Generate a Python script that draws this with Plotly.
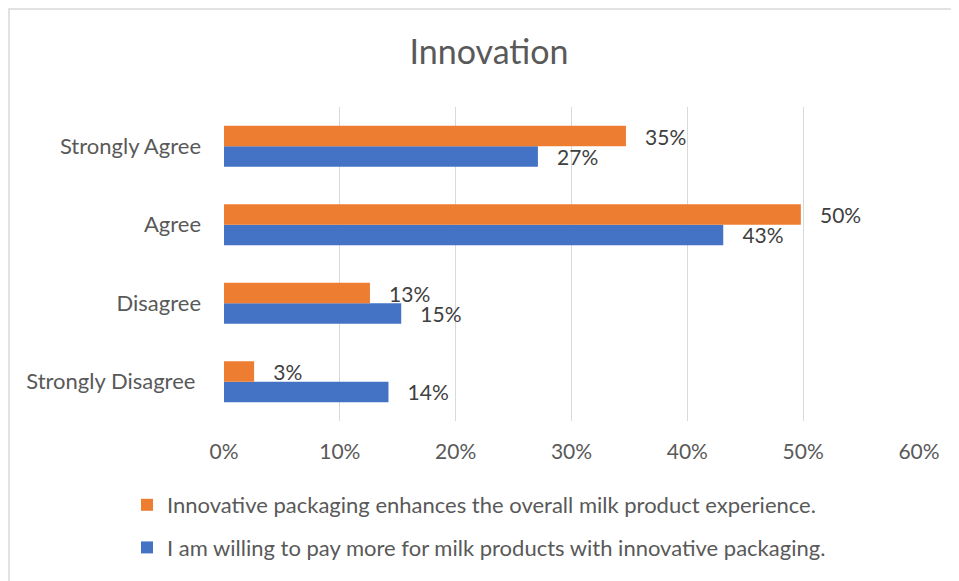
import plotly.graph_objects as go

categories = ["Strongly Disagree\u00a0", "Disagree", "Agree", "Strongly Agree"]
series_names = [
    "I am willing to pay more for milk products with innovative packaging.",
    "Innovative packaging enhances the overall milk product experience.",
]
willing_to_pay = [0.142, 0.153, 0.431, 0.271]
enhances_experience = [0.026, 0.126, 0.498, 0.347]
x_ticks = [0, 0.1, 0.2, 0.3, 0.4, 0.5, 0.6]
x_tick_labels = ["0%", "10%", "20%", "30%", "40%", "50%", "60%"]

FONT = "Lato"
TXT = "#595959"
LBL = "#404040"
pad = "\u00a0\u00a0\u00a0"

# figure sits at (8, 8) in the page because of the default body margin
W, H = 951, 573
L, R, T, B = 216, 40, 99, 160
PW, PH = W - L - R, H - T - B

fig = go.Figure()
fig.add_trace(go.Bar(
    y=categories, x=willing_to_pay, orientation="h", name=series_names[0],
    marker=dict(color="#4472C4", line=dict(width=0)),
    texttemplate=pad + "%{x:.0%}", textposition="outside", constraintext="none",
    textfont=dict(family=FONT, size=21, color=LBL), cliponaxis=False,
    legendgroup="b", legendrank=2, hoverinfo="skip",
))
fig.add_trace(go.Bar(
    y=categories, x=enhances_experience, orientation="h", name=series_names[1],
    marker=dict(color="#ED7D31", line=dict(width=0)),
    texttemplate=pad + "%{x:.0%}", textposition="outside", constraintext="none",
    textfont=dict(family=FONT, size=21, color=LBL), cliponaxis=False,
    legendgroup="a", legendrank=1, hoverinfo="skip",
))

fig.update_layout(
    width=W, height=H,
    margin=dict(l=L, r=R, t=T, b=B),
    paper_bgcolor="white", plot_bgcolor="white",
    barmode="group", bargap=0.478, bargroupgap=0,
    font=dict(family=FONT, color=TXT),
    title=dict(text="Innovation", x=481 / W, xanchor="center", y=1 - 44 / H,
               yanchor="middle", font=dict(family=FONT, size=34, color=TXT)),
    xaxis=dict(range=[0, 0.6], tickvals=x_ticks, ticktext=x_tick_labels,
               showgrid=True, gridcolor="#D9D9D9", gridwidth=1.3,
               zeroline=False, showline=False, ticks="",
               tickfont=dict(family=FONT, size=21, color=TXT),
               ticklabelstandoff=16, fixedrange=True),
    yaxis=dict(showgrid=False, zeroline=False, showline=False, ticks="",
               tickfont=dict(family=FONT, size=22, color=TXT),
               ticklabelstandoff=22, fixedrange=True),
    legend=dict(orientation="v", x=(119 - L) / PW, xanchor="left",
                y=(T + PH - 476) / PH, yanchor="top",
                traceorder="grouped",
                tracegroupgap=11, font=dict(family=FONT, size=22, color=TXT),
                bgcolor="rgba(0,0,0,0)"),
    showlegend=True,
    shapes=[dict(type="rect", xref="paper", yref="paper",
                 x0=(1 - L) / PW, x1=1.3, y0=-0.8, y1=(PH + T - 1) / PH,
                 line=dict(color="#D9D9D9", width=1.5), fillcolor="rgba(0,0,0,0)",
                 layer="below")],
)

fig.write_html("out.html")
